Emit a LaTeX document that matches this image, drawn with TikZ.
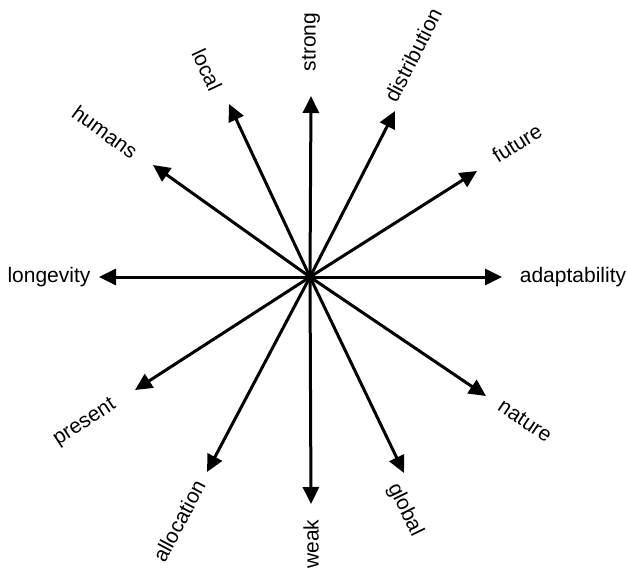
\documentclass[tikz,border=0pt]{standalone}
\usepackage{fontspec}
\setmainfont{Liberation Sans}
\usetikzlibrary{arrows.meta}
\begin{document}
\begin{tikzpicture}[x=1pt,y=-1pt,
  arr/.style={line width=3pt, -{Triangle[length=17pt,width=16pt]}},
  lbl/.style={font=\fontsize{21}{24}\selectfont, inner sep=0pt}]
\useasboundingbox (0,0) rectangle (627,573);
\coordinate (c) at (310,277);
% arrow tips
\coordinate (tStrong) at (311,96);
\coordinate (tWeak) at (311,504);
\coordinate (tLong) at (99,277);
\coordinate (tAdapt) at (502,277);
\coordinate (tLocal) at (229,104);
\coordinate (tDist) at (395,111);
\coordinate (tHum) at (153,165);
\coordinate (tFut) at (477,171);
\coordinate (tPres) at (135,390);
\coordinate (tNat) at (486,396);
\coordinate (tAlloc) at (207,472);
\coordinate (tGlob) at (404,473);
\foreach \t in {tStrong,tWeak,tLong,tAdapt,tLocal,tDist,tHum,tFut,tPres,tNat,tAlloc,tGlob}
  \draw[arr] (c) -- (\t);
\fill (c) circle (5);
% labels
\node[lbl, rotate=90] (strong) at (311,42) {strong};
\node[lbl, rotate=90] (weak) at (311,544) {weak};
\node[lbl] (longevity) at (49,277) {longevity};
\node[lbl] (adaptability) at (573,277) {adaptability};
\node[lbl, rotate=-65] (local) at (207,70) {local};
\node[lbl, rotate=63] (distribution) at (413,55) {distribution};
\node[lbl, rotate=-36] (humans) at (105,132) {humans};
\node[lbl, rotate=32] (future) at (517,143) {future};
\node[lbl, rotate=33] (present) at (85,423) {present};
\node[lbl, rotate=-34] (nature) at (525,421) {nature};
\node[lbl, rotate=62] (allocation) at (179,521) {allocation};
\node[lbl, rotate=-64] (global) at (405,510) {global};
\end{tikzpicture}
\end{document}
